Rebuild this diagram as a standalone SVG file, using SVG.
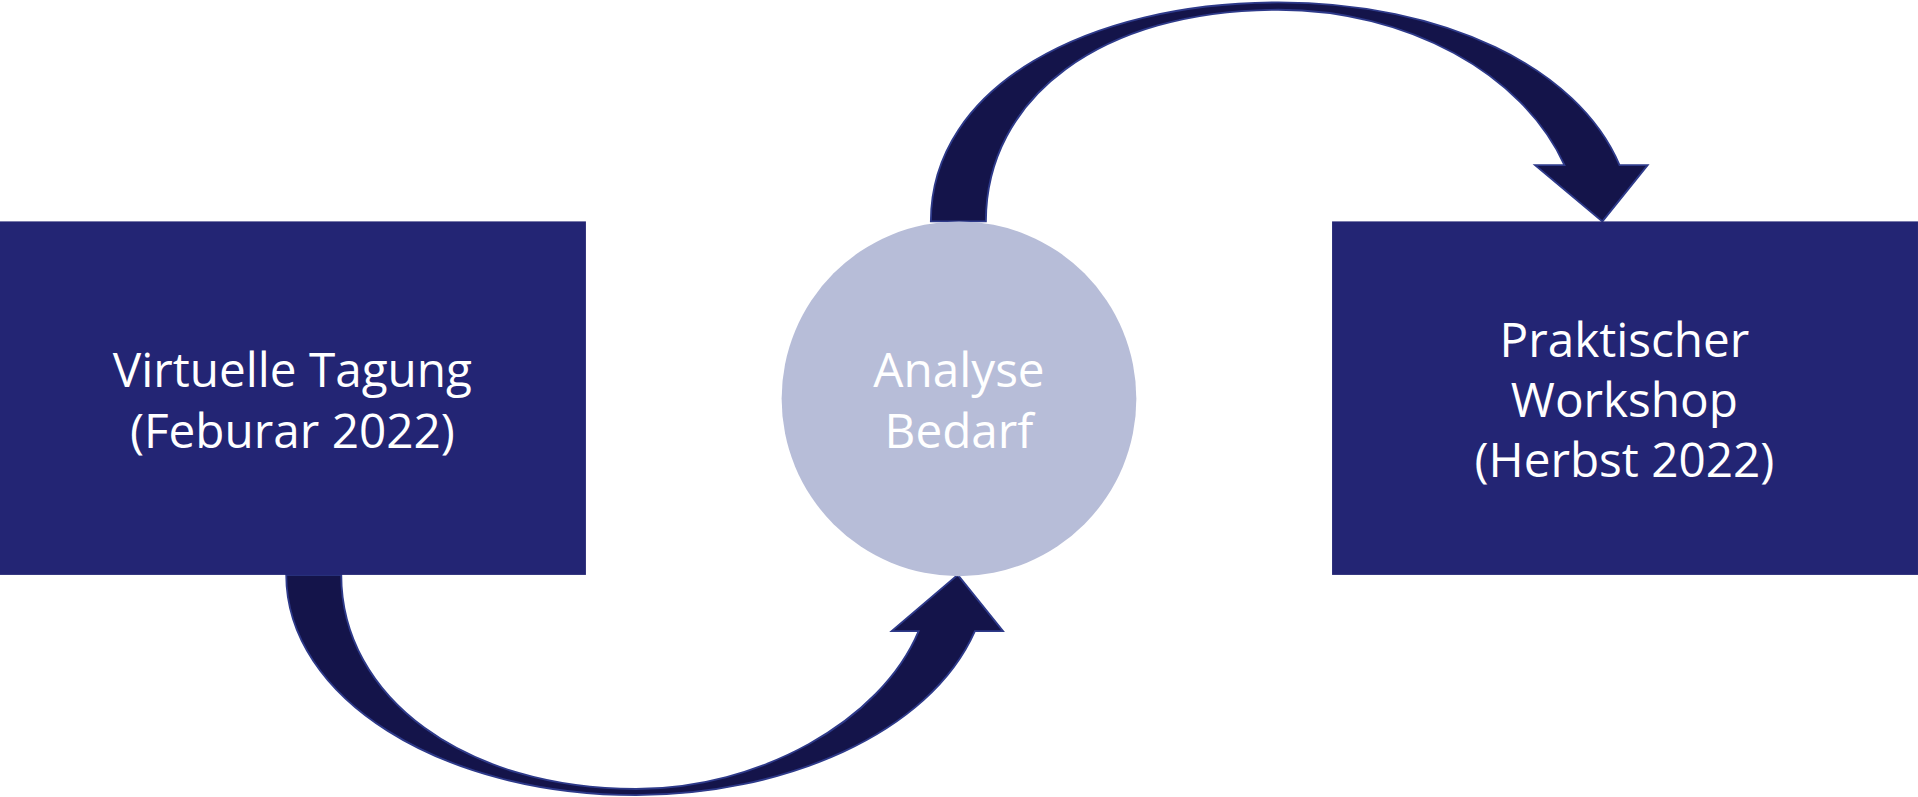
<svg xmlns="http://www.w3.org/2000/svg" width="1918" height="797" viewBox="0 0 1918 797">
<style>
.box{fill:#232574}
.t{font-family:"Open Sans","Liberation Sans",sans-serif;font-size:39px;fill:#fff;text-anchor:middle}
.arr{fill:#14144a;stroke:#2e3a8a;stroke-width:1.5}
</style>
<rect width="1918" height="797" fill="#fff"/>
<g transform="scale(1.2232)">
<g id="connectors">
<path class="arr" d="M761,181 C761,70 890,2 1045,2 C1180,2 1290,55 1324,135 L1347,135 L1310,181 L1255,135 L1279,135 C1245,60 1150,8 1045,8 C900,8 806,80 806,181 Z"/>
<path class="arr" d="M234,470 C234,570 360,650 520,650 C640,650 760,600 797,516 L820,516 L783,470 L729,516 L751,516 C720,590 620,645 520,645 C380,645 279,570 279,470 Z"/>
</g>
<g id="n1"><rect class="box" x="0" y="181" width="479" height="289"/>
<text class="t" x="239" y="316">Virtuelle Tagung</text><text class="t" x="239" y="366">(Feburar 2022)</text></g>
<g id="n2"><circle cx="784" cy="326" r="145" fill="#b7bdd8"/>
<text class="t" x="784" y="316">Analyse</text><text class="t" x="784" y="366">Bedarf</text></g>
<g id="n3"><rect class="box" x="1089" y="181" width="479" height="289"/>
<text class="t" x="1328" y="292">Praktischer</text><text class="t" x="1328" y="341">Workshop</text><text class="t" x="1328" y="390">(Herbst 2022)</text></g>
</g>
</svg>
